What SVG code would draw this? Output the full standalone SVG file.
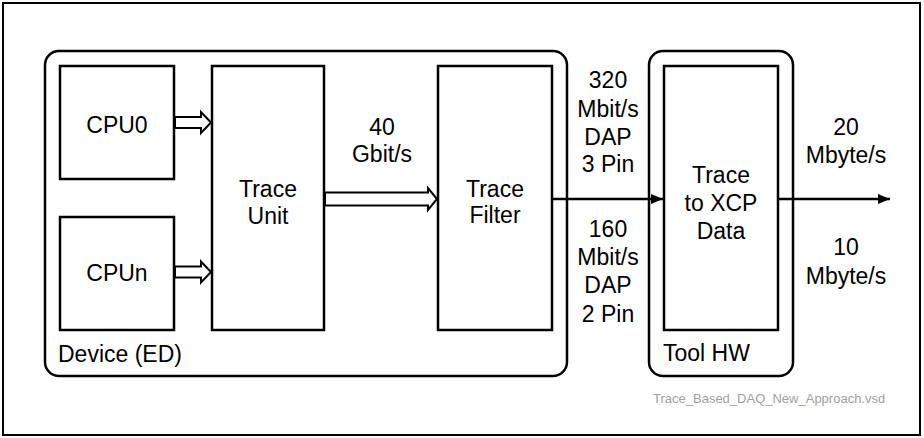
<svg xmlns="http://www.w3.org/2000/svg" width="924" height="438" viewBox="0 0 924 438">
<defs>
<style>
.t{font-family:"Liberation Sans",Arial,sans-serif;font-size:23px;fill:#000;text-anchor:middle}
.l{font-family:"Liberation Sans",Arial,sans-serif;font-size:23px;fill:#000}
.f{font-family:"Liberation Sans",Arial,sans-serif;font-size:13px;fill:#a0a0a0}
.box{fill:#fff;stroke:#000;stroke-width:2.5}
.grp{fill:#fff;stroke:#000;stroke-width:2.5}
.hol{fill:#fff;stroke:#000;stroke-width:2;stroke-linejoin:miter}
.ln{stroke:#000;stroke-width:2.5;fill:none}
</style>
<marker id="ah" markerWidth="12" markerHeight="10" refX="12" refY="5" orient="auto" markerUnits="userSpaceOnUse">
<path d="M0,0 L12,5 L0,10 Z" fill="#000"/>
</marker>
</defs>
<rect x="0" y="0" width="924" height="438" fill="#fff"/>
<rect x="3" y="3" width="917" height="432" fill="none" stroke="#000" stroke-width="2"/>
<g id="device">
<rect class="grp" x="45" y="51" width="522" height="325" rx="14"/>
<text class="l" x="58" y="362">Device (ED)</text>
</g>
<g id="toolhw">
<rect class="grp" x="649" y="51" width="144" height="325" rx="14"/>
<text class="l" x="663" y="361">Tool HW</text>
</g>
<g id="cpu0">
<rect class="box" x="60" y="66" width="114" height="113"/>
<text class="t" x="117" y="133">CPU0</text>
</g>
<g id="cpun">
<rect class="box" x="60" y="217" width="114" height="113"/>
<text class="t" x="117" y="281">CPUn</text>
</g>
<g id="traceunit">
<rect class="box" x="212" y="66" width="112" height="264"/>
<text class="t" x="268" y="197">Trace</text>
<text class="t" x="268" y="224">Unit</text>
</g>
<g id="tracefilter">
<rect class="box" x="438" y="66" width="114" height="264"/>
<text class="t" x="495" y="197">Trace</text>
<text class="t" x="495" y="223">Filter</text>
</g>
<g id="tracexcp">
<rect class="box" x="664" y="66" width="114" height="264"/>
<text class="t" x="721" y="183">Trace</text>
<text class="t" x="721" y="211">to XCP</text>
<text class="t" x="721" y="239">Data</text>
</g>
<g id="connectors">
<polygon class="hol" points="175,117 201,117 201,112 211,122.5 201,133 201,128 175,128"/>
<polygon class="hol" points="175,266.5 201,266.5 201,261.5 211,272 201,282.5 201,277.5 175,277.5"/>
<polygon class="hol" points="325,192.5 428,192.5 428,188 437,199 428,210 428,205.5 325,205.5"/>
<line class="ln" x1="553" y1="199" x2="663" y2="199" marker-end="url(#ah)"/>
<line class="ln" x1="779" y1="199" x2="890" y2="199" marker-end="url(#ah)"/>
</g>
<g id="labels">
<text class="t" x="382" y="135">40</text>
<text class="t" x="382" y="162">Gbit/s</text>
<text class="t" x="608" y="88">320</text>
<text class="t" x="608" y="117">Mbit/s</text>
<text class="t" x="608" y="145">DAP</text>
<text class="t" x="608" y="172">3 Pin</text>
<text class="t" x="608" y="237">160</text>
<text class="t" x="608" y="265">Mbit/s</text>
<text class="t" x="608" y="293">DAP</text>
<text class="t" x="608" y="322">2 Pin</text>
<text class="t" x="846" y="135">20</text>
<text class="t" x="846" y="163">Mbyte/s</text>
<text class="t" x="846" y="255">10</text>
<text class="t" x="846" y="284">Mbyte/s</text>
</g>
<text class="f" x="653" y="403">Trace_Based_DAQ_New_Approach.vsd</text>
</svg>
